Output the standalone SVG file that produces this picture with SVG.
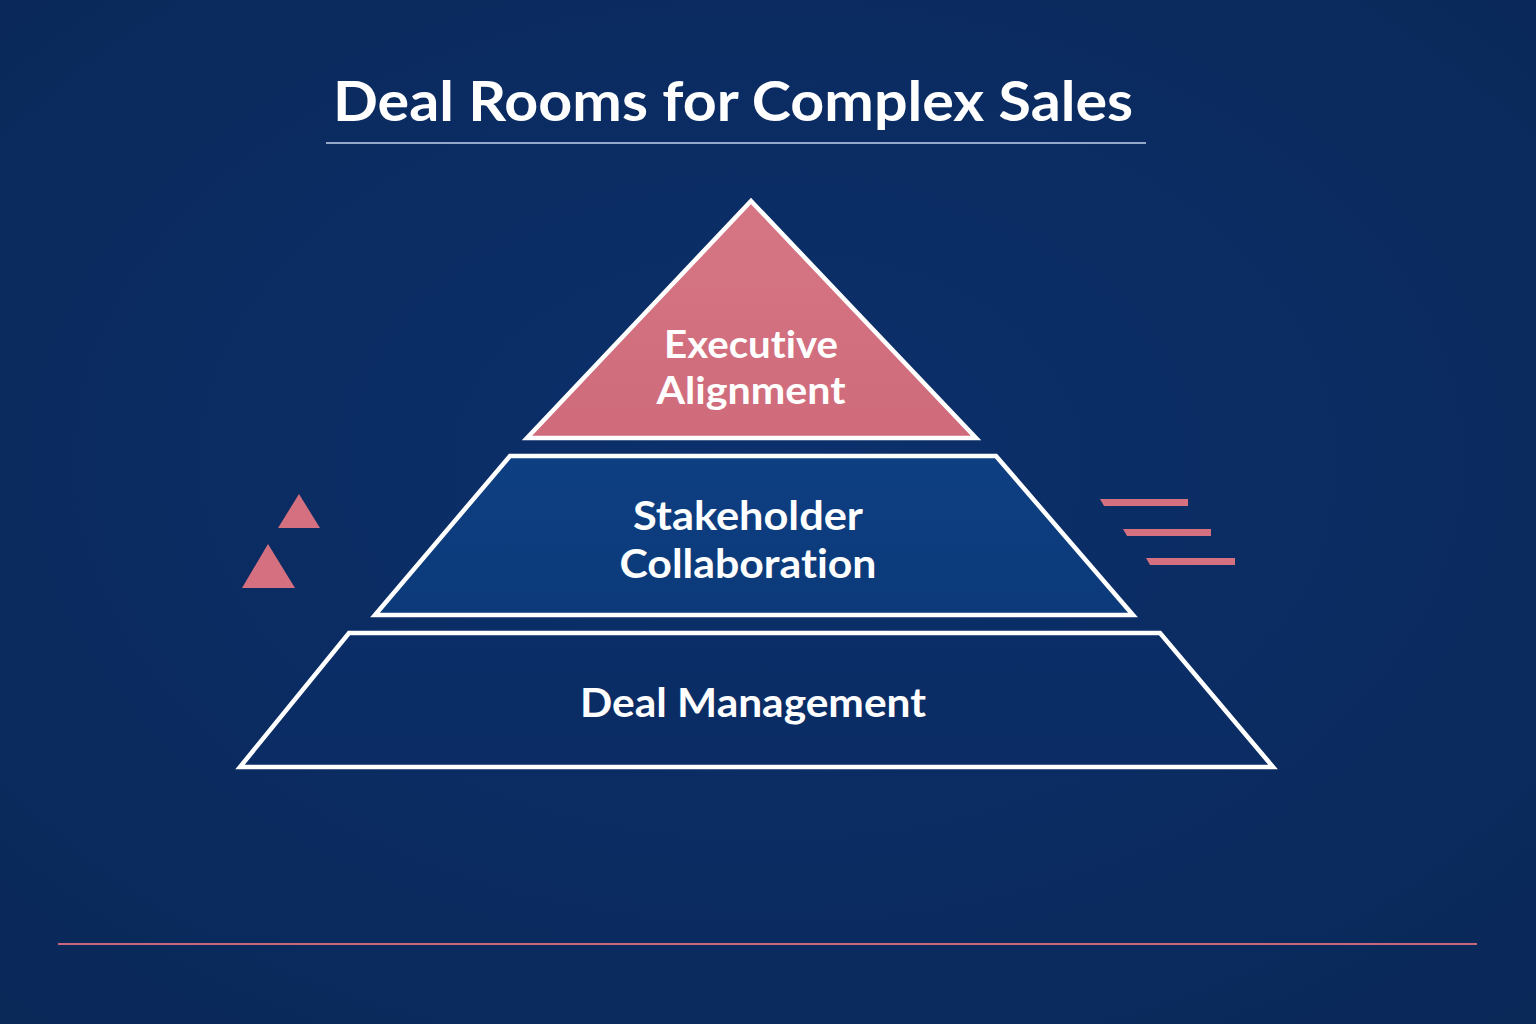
<svg xmlns="http://www.w3.org/2000/svg" width="1536" height="1024" viewBox="0 0 1536 1024">
<defs>
<style>
.t{font-family:Lato,"Open Sans","Liberation Sans",sans-serif;font-weight:bold;fill:#ffffff;text-anchor:middle;font-variant-ligatures:none;font-feature-settings:"liga" 0}
.tier{stroke:#ffffff;stroke-width:4.5;stroke-linejoin:miter}
.acc{fill:#d4707f}
</style>
<radialGradient id="bg" cx="50%" cy="45%" r="75%">
<stop offset="0" stop-color="#0c306c"/>
<stop offset="1" stop-color="#0a2858"/>
</radialGradient>
<linearGradient id="g1" x1="0" y1="0" x2="0" y2="1">
<stop offset="0" stop-color="#d67684"/>
<stop offset="1" stop-color="#cf6b7b"/>
</linearGradient>
<linearGradient id="g2" x1="0" y1="0" x2="0" y2="1">
<stop offset="0" stop-color="#0e3f82"/>
<stop offset="1" stop-color="#0c3a7a"/>
</linearGradient>
<linearGradient id="g3" x1="0" y1="0" x2="0" y2="1">
<stop offset="0" stop-color="#0b2e68"/>
<stop offset="1" stop-color="#0b2c64"/>
</linearGradient>
</defs>
<rect width="1536" height="1024" fill="url(#bg)"/>
<g id="title">
<text class="t" x="733" y="121" font-size="56" textLength="800" lengthAdjust="spacingAndGlyphs" font-weight="600">Deal Rooms for Complex Sales</text>
<line x1="326" y1="143" x2="1146" y2="143" stroke="#c3d2ea" stroke-width="1.5"/>
</g>
<g id="tier-bottom">
<polygon class="tier" points="349,633 1160,633 1273,767 240,767" fill="url(#g3)"/>
<text class="t" x="753" y="717" font-size="40" textLength="346" lengthAdjust="spacingAndGlyphs">Deal Management</text>
</g>
<g id="tier-middle">
<polygon class="tier" points="510,456 996,456 1133,615 375,615" fill="url(#g2)"/>
<text class="t" x="748" y="530" font-size="40" textLength="230" lengthAdjust="spacingAndGlyphs">Stakeholder</text>
<text class="t" x="748" y="578" font-size="40" textLength="257" lengthAdjust="spacingAndGlyphs">Collaboration</text>
</g>
<g id="tier-top">
<polygon class="tier" points="751,201 976,438 527,438" fill="url(#g1)"/>
<text class="t" x="751" y="358" font-size="38" textLength="174" lengthAdjust="spacingAndGlyphs">Executive</text>
<text class="t" x="751" y="404" font-size="38" textLength="189" lengthAdjust="spacingAndGlyphs">Alignment</text>
</g>
<g id="decor-left">
<polygon class="acc" points="299,494 320,528 278,528"/>
<polygon class="acc" points="268,544 295,588 242,588"/>
</g>
<g id="decor-right">
<polygon class="acc" points="1100,499 1188,499 1188,506 1104,506"/>
<polygon class="acc" points="1123,529 1211,529 1211,536 1127,536"/>
<polygon class="acc" points="1146,558 1235,558 1235,565 1150,565"/>
</g>
<g id="connectors"></g>
<line x1="58" y1="944" x2="1477" y2="944" stroke="#c8687a" stroke-width="2"/>
</svg>
